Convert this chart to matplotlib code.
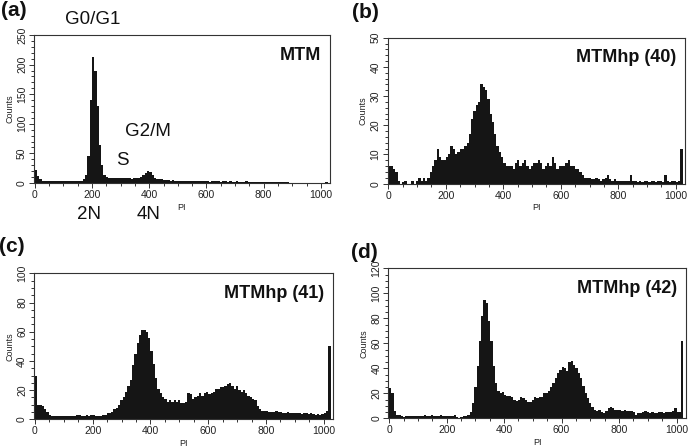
import numpy as np
import matplotlib
matplotlib.use("Agg")
import matplotlib.pyplot as plt
from matplotlib.ticker import MultipleLocator

plt.rcParams['font.family'] = ['Liberation Sans', 'DejaVu Sans']

# ---- data: counts per 8-channel bin (channels 0..1023) ----
bin_width = 8
n_channels = 1024

counts_a = [
    22, 12, 6, 4, 3, 4, 3, 3, 3, 4, 3, 3, 3, 4, 3, 3,
    3, 3, 3, 4, 4, 6, 14, 45, 140, 213, 190, 130, 65, 30, 14, 10,
    9, 8, 8, 9, 8, 9, 8, 9, 8, 8, 7, 8, 8, 9, 10, 13,
    17, 21, 19, 14, 9, 7, 6, 6, 5, 5, 5, 4, 5, 4, 4, 4,
    4, 4, 3, 4, 3, 3, 4, 3, 3, 3, 3, 3, 2, 3, 3, 3,
    3, 2, 3, 3, 2, 3, 2, 2, 3, 2, 2, 2, 3, 2, 2, 2,
    2, 2, 2, 2, 2, 2, 2, 2, 2, 2, 2, 2, 1, 1, 1, 0,
    0, 0, 0, 0, 0, 0, 0, 0, 0, 0, 0, 0, 0, 0, 0, 1,
]

counts_b = [
    6, 6, 5, 4, 1, 0, 0.5, 1, 0, 0, 1, 0, 1, 2, 1, 2,
    1, 2, 4, 6, 8, 12, 9, 8, 8, 9, 10, 13, 12, 10, 11, 12,
    12, 13, 14, 17, 22, 25, 27, 28, 34, 33, 32, 29, 24, 21, 17, 13,
    11, 9, 7, 6, 6, 6, 5, 7, 8, 6, 7, 8, 6, 5, 6, 7,
    7, 8, 7, 5, 6, 7, 6, 9, 7, 5, 6, 6, 6, 7, 8, 6,
    6, 5, 5, 4, 3, 2, 2, 2, 1.5, 1.5, 2, 1.5, 1, 1.5, 2, 3,
    1.5, 1, 1.5, 1, 1, 1, 1, 1, 1, 3, 1, 1, 0.5, 1, 0.5, 1,
    1, 0.5, 1, 1, 0.5, 1, 1, 0.5, 3, 1, 0.5, 1, 1, 0.5, 1, 12,
]

counts_c = [
    30, 10, 10, 9, 7, 5, 3, 2.5, 2, 2, 2.5, 2, 2, 2, 2, 2,
    2, 2, 3, 3, 2, 2.5, 3, 2.5, 3, 3, 2.5, 2, 2, 3, 3, 4,
    4, 5, 7, 8, 10, 13, 15, 19, 23, 27, 37, 45, 52, 58, 61, 61,
    60, 56, 47, 38, 28, 21, 18, 15, 14, 12, 13, 12, 13, 12, 13, 11,
    11, 12, 18, 17, 14, 15, 16, 18, 16, 18, 19, 17, 18, 19, 21, 21,
    22, 22, 23, 24, 25, 23, 21, 23, 20, 19, 20, 18, 16, 15, 14, 13,
    9, 7, 6, 6, 6, 5, 5, 5, 6, 5, 5, 4, 4, 5, 4, 4,
    4, 4, 4, 3.5, 4, 4, 3.5, 4, 3.5, 3, 3.5, 3, 3.5, 4, 6, 50,
]

counts_d = [
    24, 20, 6, 3, 3, 2, 1, 2, 2, 1.5, 2, 2, 2, 2, 2, 2.5,
    2, 2, 2.5, 2, 2, 2, 2.5, 2, 2, 2, 2, 2, 2.5, 1, 0.5, 1,
    2, 2, 3, 5, 12, 25, 42, 62, 82, 95, 92, 78, 62, 42, 28, 22,
    20, 21, 19, 18, 18, 17, 15, 14, 15, 17, 16, 15, 13, 13, 15, 17,
    16, 17, 17, 20, 20, 22, 25, 28, 32, 36, 39, 41, 40, 38, 45, 46,
    43, 40, 36, 32, 26, 20, 16, 12, 9, 7, 6, 7, 5, 4, 6, 8,
    9, 8, 7, 7, 7, 6, 7, 6, 6, 6, 5, 3, 4, 4, 5, 6,
    5, 4, 5, 4, 4, 5, 5, 4, 5, 5, 5, 6, 8, 5, 5, 62,
]

panel_letters = ["(a)", "(b)", "(c)", "(d)"]
sample_names = ["MTM", "MTMhp (40)", "MTMhp (41)", "MTMhp (42)"]
y_max = [250, 50, 100, 120]
y_major = [50, 10, 20, 20]
y_minor = [10, 2, 5, 5]
x_ticks = [0, 200, 400, 600, 800, 1000]

W, H = 692, 447
fig = plt.figure(figsize=(W / 100, H / 100), dpi=100)


def ax_rect(left, top, right, bottom):
    return [left / W, 1 - bottom / H, (right - left) / W, (bottom - top) / H]


rects = [
    ax_rect(34, 35, 330, 183),
    ax_rect(387.5, 37.7, 685, 183.7),
    ax_rect(34, 273.3, 333, 419.3),
    ax_rect(388.3, 268.3, 685.7, 418.3),
]
letter_pos = [(1, 11), (352, 13), (-1, 247), (351, 252)]
all_counts = [counts_a, counts_b, counts_c, counts_d]

edges = np.arange(0, n_channels + 1, bin_width)
dark = '#151515'

for i in range(4):
    ax = fig.add_axes(rects[i])
    ax.stairs(np.asarray(all_counts[i], dtype=float), edges, fill=True,
              color=dark, lw=0)
    ax.set_xlim(-3, 1032)
    ax.set_ylim(0, y_max[i])
    ax.set_xticks(x_ticks)
    ax.xaxis.set_minor_locator(MultipleLocator(50))
    ax.yaxis.set_major_locator(MultipleLocator(y_major[i]))
    ax.yaxis.set_minor_locator(MultipleLocator(y_minor[i]))
    ax.tick_params(which='both', direction='out', color='#333333',
                   labelsize=7.5, labelcolor='#222222', width=0.7)
    ax.tick_params(which='major', length=3.5, pad=1.5)
    ax.tick_params(which='minor', length=2)
    for lab in ax.get_yticklabels():
        lab.set_rotation(90)
        lab.set_va('center')
        lab.set_ha('right')
    for sp in ax.spines.values():
        sp.set_linewidth(0.8)
        sp.set_color('#333333')
    ax.set_xlabel("PI", fontsize=6.5, labelpad=2, color='#222222')
    ax.set_ylabel("Counts", fontsize=6.5, labelpad=2, color='#222222')
    ax.text(0.97, 0.92, sample_names[i], transform=ax.transAxes,
            ha='right', va='top', fontsize=13, fontweight='bold',
            color='#111111')
    lx, ly = letter_pos[i]
    fig.text(lx / W, 1 - ly / H, panel_letters[i], fontsize=15,
             fontweight='bold', ha='left', va='center', color='#111111')

# phase annotations for panel (a)
annots = [("G0/G1", 93, 20), ("G2/M", 148, 132), ("S", 122, 160),
          ("2N", 89, 215), ("4N", 149, 215)]
for txt, px, py in annots:
    fig.text(px / W, 1 - py / H, txt, fontsize=13.5, ha='center',
             va='center', color='#111111')

fig.savefig("out.png", dpi=100)
